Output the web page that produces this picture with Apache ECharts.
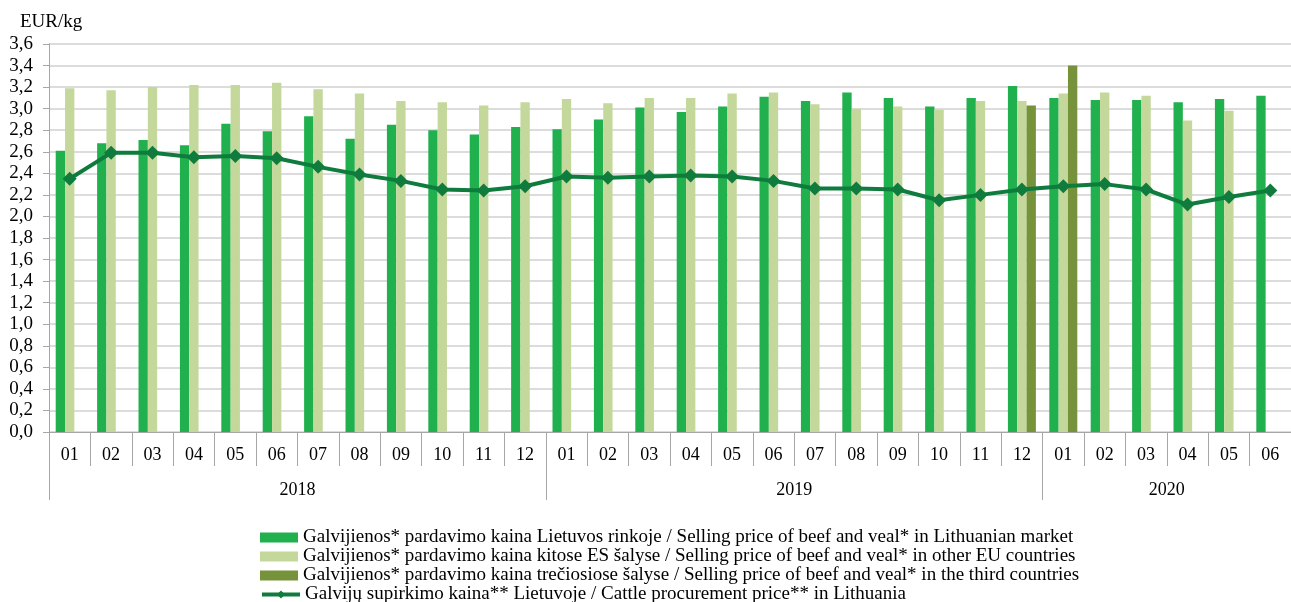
<!DOCTYPE html>
<html><head><meta charset="utf-8">
<script src="https://cdn.jsdelivr.net/npm/echarts@6/dist/echarts.min.js"></script>
<style>html,body{margin:0;padding:0;background:#fff}#c{width:1291px;height:602px}</style>
</head><body><div id="c"></div>
<script>
const months = ['01','02','03','04','05','06','07','08','09','10','11','12','01','02','03','04','05','06','07','08','09','10','11','12','01','02','03','04','05','06'];
const years = ['2018','2019','2020'];
const yearSpans = [12,12,6];
const seriesNames = [
 'Galvijienos* pardavimo kaina Lietuvos rinkoje / Selling price of beef and veal* in Lithuanian market',
 'Galvijienos* pardavimo kaina kitose ES šalyse / Selling price of beef and veal* in other EU countries',
 'Galvijienos* pardavimo kaina trečiosiose šalyse / Selling price of beef and veal* in the third countries',
 'Galvijų supirkimo kaina** Lietuvoje / Cattle procurement price** in Lithuania'
];
const lithuanian = [2.61,2.68,2.71,2.66,2.86,2.79,2.93,2.72,2.85,2.80,2.76,2.83, 2.81,2.90,3.01,2.97,3.02,3.11,3.07,3.15,3.10,3.02,3.10,3.21, 3.10,3.08,3.08,3.06,3.09,3.12];
const otherEU = [3.19,3.17,3.20,3.22,3.22,3.24,3.18,3.14,3.07,3.06,3.03,3.06, 3.09,3.05,3.10,3.10,3.14,3.15,3.04,3.00,3.02,2.99,3.07,3.07, 3.14,3.15,3.12,2.89,2.98,null];
const thirdCountries = [null,null,null,null,null,null,null,null,null,null,null,null, null,null,null,null,null,null,null,null,null,null,null,3.03, 3.40,null,null,null,null,null];
const cattle = [2.35,2.59,2.59,2.55,2.56,2.54,2.46,2.39,2.33,2.25,2.24,2.28, 2.37,2.36,2.37,2.38,2.37,2.33,2.26,2.26,2.25,2.15,2.20,2.25, 2.28,2.30,2.25,2.11,2.18,2.24];

const yearBounds = [0]; const yearMids = [];
yearSpans.forEach((s,i)=>{ yearMids.push(yearBounds[i] + s/2); yearBounds.push(yearBounds[i] + s); });

const FONT = '"Liberation Serif", "Times New Roman", serif';
const legendTops = [523, 542, 561, 580];
const legends = seriesNames.map((n,i)=>({
  orient:'horizontal', left:255, top:legendTops[i], itemGap:0, itemWidth:38, itemHeight:10,
  textStyle:{fontFamily:FONT, fontSize:19, color:'#000', lineHeight:19},
  lineStyle:{width:4},
  data:[i < 3 ? {name:n, icon:'rect'} : {name:n}]
}));

const chart = echarts.init(document.getElementById('c'), null, {renderer:'canvas'});
chart.setOption({
  animation:false,
  backgroundColor:'#fff',
  title:{text:'EUR/kg', left:15, top:8, textStyle:{fontFamily:FONT, fontSize:19, fontWeight:'normal', color:'#000'}},
  grid:{left:49, right:0, top:44, bottom:170, containLabel:false},
  legend: legends,
  xAxis:[
    {type:'category', data:months, boundaryGap:true, position:'bottom',
     axisLine:{show:true, lineStyle:{color:'#a6a6a6', width:1}},
     axisTick:{show:true, length:34, alignWithLabel:false, lineStyle:{color:'#a6a6a6'}},
     axisLabel:{fontFamily:FONT, fontSize:18, color:'#000', margin:14, interval:0},
     splitLine:{show:false}},
    {type:'value', min:0, max:30, position:'bottom', offset:34,
     axisLine:{show:false},
     axisTick:{show:true, length:34, lineStyle:{color:'#a6a6a6'}, customValues:yearBounds},
     axisLabel:{fontFamily:FONT, fontSize:18, color:'#000', margin:15, customValues:yearMids,
       formatter:(v)=>{ const i = yearMids.indexOf(v); return i>=0 ? years[i] : ''; }},
     splitLine:{show:false}}
  ],
  yAxis:{type:'value', min:0, max:3.6, interval:0.2,
    axisLine:{show:true, lineStyle:{color:'#a6a6a6'}},
    axisTick:{show:true, length:6, lineStyle:{color:'#a6a6a6'}},
    axisLabel:{fontFamily:FONT, fontSize:19, color:'#000', margin:16,
      formatter:(v)=>v.toFixed(1).replace('.',',')},
    splitLine:{show:true, lineStyle:{color:'#d0d0d0', width:1.5}}
  },
  series:[
    {name:seriesNames[0], type:'bar', data:lithuanian, barGap:'0%', barCategoryGap:'32.4%', itemStyle:{color:'#21B04E'}},
    {name:seriesNames[1], type:'bar', data:otherEU, barGap:'0%', barCategoryGap:'32.4%', itemStyle:{color:'#C4D89C'}},
    {name:seriesNames[2], type:'bar', data:thirdCountries, barGap:'0%', barCategoryGap:'32.4%', itemStyle:{color:'#76923B'}},
    {name:seriesNames[3], type:'line', data:cattle, z:5, symbol:'diamond', symbolSize:14,
     lineStyle:{color:'#0F7C3E', width:4}, itemStyle:{color:'#0F7C3E'}}
  ]
});
</script></body></html>
